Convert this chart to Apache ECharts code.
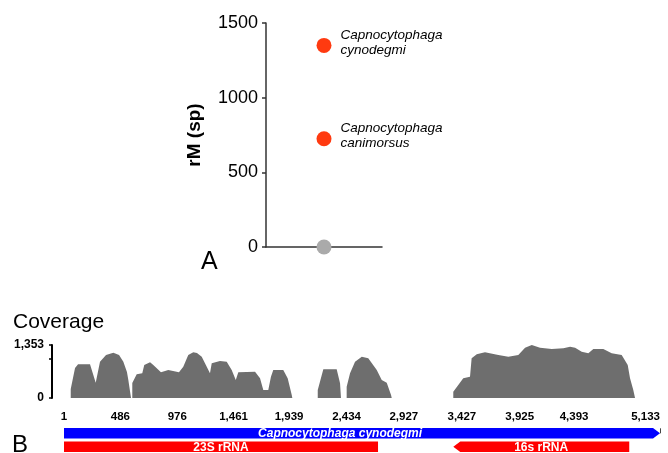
<!DOCTYPE html>
<html>
<head>
<meta charset="utf-8">
<script src="https://cdn.jsdelivr.net/npm/echarts@6/dist/echarts.min.js"></script>
<style>
html,body{margin:0;padding:0;background:#fff;}
#chart{width:668px;height:453px;}
</style>
</head>
<body>
<div id="chart"></div>
<script>
// ---- Panel A data ----
const speciesGenus = ['Capnocytophaga', 'Capnocytophaga'];
const speciesEpithet = ['cynodegmi', 'canimorsus'];
const speciesRM = [1350, 725];
const referenceRM = [0];
const rmTicks = [0, 500, 1000, 1500];

// ---- Panel B coverage data (position, depth); null = no coverage gap ----
const coveragePos = [
  59, 59, 96, 122, 225, 274, 311, 363, 426, 475, 512, 543, 555, 578,
  583,
  589, 589, 627, 675, 692, 742, 770, 836, 899, 991, 1028, 1071, 1114, 1146, 1187, 1215, 1258, 1273, 1344, 1402, 1445, 1480, 1502, 1646, 1689, 1717, 1760, 1783, 1803, 1889, 1927, 1962, 1967,
  2080,
  2186, 2186, 2234, 2349, 2378, 2386,
  2410,
  2435, 2435, 2464, 2507, 2565, 2621, 2694, 2737, 2780, 2817, 2823,
  3100,
  3353, 3353, 3396, 3439, 3497, 3511, 3555, 3626, 3741, 3827, 3913, 3971, 4029, 4100, 4201, 4301, 4359, 4402, 4459, 4516, 4559, 4645, 4717, 4803, 4855, 4875, 4903, 4918
];
const coverageDepth = [
  0, 230, 766, 860, 860, 391, 927, 1098, 1157, 1098, 927, 664, 460, 0,
  null,
  0, 383, 605, 631, 842, 911, 842, 656, 715, 656, 799, 1098, 1167, 1149, 1054, 886, 631, 886, 945, 927, 715, 460, 656, 671, 503, 204, 204, 544, 715, 715, 503, 77, 0,
  null,
  0, 204, 733, 733, 375, 0,
  null,
  0, 288, 631, 927, 1054, 1014, 715, 460, 391, 77, 0,
  null,
  0, 161, 332, 503, 544, 1014, 1116, 1167, 1098, 1054, 1098, 1284, 1353, 1284, 1251, 1269, 1310, 1284, 1182, 1141, 1251, 1251, 1141, 1098, 842, 503, 204, 0
];
const coverageMax = 1353;
const coverageTicks = [0, 1000, 1353];
const coverageLabels = [0, 1353];

// ---- Genome axis ticks ----
const genomeStart = 1;
const genomeEnd = 5133;
const genomeTicks = [1, 486, 976, 1461, 1939, 2434, 2927, 3427, 3925, 4393, 5133];

// ---- Gene track ----
const geneNames = ['Capnocytophaga cynodegmi', '23S rRNA', '16s rRNA'];
const geneStart = [1, 1, 3353];
const geneEnd = [5133, 2705, 4868];
const geneRow = [0, 1, 1];
const geneStrand = ['+', '', '-'];
const geneLabelAt = [2378, 1353, 4110];

// ---- styles ----
const FONT = 'Liberation Sans, Arial, Helvetica, sans-serif';
const geneFill = { 'Capnocytophaga cynodegmi': '#0000ff', '23S rRNA': '#ff0000', '16s rRNA': '#ff0000' };
const geneItalic = { 'Capnocytophaga cynodegmi': true };

const fmtThousands = v => Number(v).toLocaleString('en-US');

const chart = echarts.init(document.getElementById('chart'), null, { renderer: 'canvas' });

const option = {
  backgroundColor: '#ffffff',
  animation: false,
  textStyle: { fontFamily: FONT },
  graphic: [
    { type: 'text', left: 201, top: 250, style: { text: 'A', font: '25px ' + FONT, fill: '#000' } },
    { type: 'text', left: 12, top: 433, style: { text: 'B', font: '24px ' + FONT, fill: '#000' } },
    { type: 'text', left: 13, top: 312, style: { text: 'Coverage', font: '21px ' + FONT, fill: '#000' } }
  ],
  grid: [
    { left: 266, right: 286, top: 23, bottom: 206, containLabel: false, outerBoundsMode: 'none' },
    { left: 64, right: 8, top: 345, bottom: 55, containLabel: false, outerBoundsMode: 'none' },
    { left: 64, right: 8, top: 426.6, height: 26.8, containLabel: false, outerBoundsMode: 'none' }
  ],
  xAxis: [
    { gridIndex: 0, type: 'value', min: 0, max: 2,
      axisLine: { show: true, onZero: false, lineStyle: { color: '#333', width: 1.5 } },
      axisTick: { show: false }, axisLabel: { show: false }, splitLine: { show: false } },
    { gridIndex: 1, type: 'value', min: genomeStart, max: genomeEnd, show: false },
    { gridIndex: 2, type: 'value', min: genomeStart, max: genomeEnd, position: 'top',
      axisLine: { show: false },
      axisTick: { show: true, length: 5, customValues: genomeTicks, lineStyle: { color: '#444', width: 1 } },
      axisLabel: { show: true, customValues: genomeTicks, margin: 4, formatter: fmtThousands,
        alignMaxLabel: 'right',
        fontFamily: FONT, fontSize: 11.5, fontWeight: 'bold', color: '#000' },
      splitLine: { show: false } }
  ],
  yAxis: [
    { gridIndex: 0, type: 'value', min: 0, max: 1500, interval: 500,
      name: 'rM (sp)', nameLocation: 'middle', nameGap: 62, nameRotate: 90,
      nameTextStyle: { fontFamily: FONT, fontSize: 19, fontWeight: 'bold', color: '#000' },
      axisLine: { show: true, lineStyle: { color: '#333', width: 1.5 } },
      axisTick: { show: true, length: 4, lineStyle: { color: '#333', width: 1.5 } },
      axisLabel: { margin: 8, fontFamily: FONT, fontSize: 18, color: '#000', formatter: v => String(v) },
      splitLine: { show: false } },
    { gridIndex: 1, type: 'value', min: 0, max: coverageMax, offset: 12,
      axisLine: { show: true, lineStyle: { color: '#000', width: 2 } },
      axisTick: { show: true, length: 3, customValues: coverageTicks, lineStyle: { color: '#000', width: 1.5 } },
      axisLabel: { show: true, customValues: coverageLabels, margin: 8, formatter: fmtThousands,
        fontFamily: FONT, fontSize: 12, fontWeight: 'bold', color: '#000' },
      splitLine: { show: false } },
    { gridIndex: 1, type: 'value', min: 0, max: coverageMax, offset: 12,
      axisLine: { show: false },
      axisTick: { show: true, inside: true, length: 3, customValues: coverageTicks, lineStyle: { color: '#000', width: 1.5 } },
      axisLabel: { show: false }, splitLine: { show: false } },
    { gridIndex: 2, type: 'value', min: -0.5, max: 1.5, inverse: true, show: false }
  ],
  series: [
    { type: 'scatter', xAxisIndex: 0, yAxisIndex: 0, symbolSize: 15,
      itemStyle: { color: '#ff3a10', opacity: 1 },
      data: speciesRM.map((v, i) => ({ value: [1, v], name: speciesGenus[i] + '\n' + speciesEpithet[i] })),
      label: { show: true, position: 'right', distance: 9, offset: [0, -3],
        formatter: p => p.name, fontFamily: FONT, fontSize: 13.5, fontStyle: 'italic',
        color: '#000', lineHeight: 15 } },
    { type: 'scatter', xAxisIndex: 0, yAxisIndex: 0, symbolSize: 15,
      itemStyle: { color: '#aaaaaa', opacity: 1 }, z: 3,
      data: referenceRM.map(v => [1, v]) },
    { type: 'line', xAxisIndex: 1, yAxisIndex: 1, showSymbol: false, connectNulls: false,
      lineStyle: { width: 0 }, areaStyle: { color: '#6e6e6e', opacity: 1 },
      data: coveragePos.map((p, i) => [p, coverageDepth[i] === null ? '-' : coverageDepth[i]]) },
    { type: 'custom', xAxisIndex: 2, yAxisIndex: 3,
      data: geneStart.map((s, i) => [s, geneEnd[i], geneRow[i], geneLabelAt[i]]),
      renderItem: function (params, api) {
        const i = params.dataIndex;
        const name = geneNames[i];
        const a = api.coord([api.value(0), api.value(2)]);
        const b = api.coord([api.value(1), api.value(2)]);
        const lab = api.coord([api.value(3), api.value(2)]);
        const h = 10.5, head = 7;
        const y0 = a[1] - h / 2, y1 = a[1] + h / 2, cy = a[1];
        let pts;
        if (geneStrand[i] === '+') {
          pts = [[a[0], y0], [b[0] - head, y0], [b[0], cy], [b[0] - head, y1], [a[0], y1]];
        } else if (geneStrand[i] === '-') {
          pts = [[a[0] + head, y0], [b[0], y0], [b[0], y1], [a[0] + head, y1], [a[0], cy]];
        } else {
          pts = [[a[0], y0], [b[0], y0], [b[0], y1], [a[0], y1]];
        }
        return {
          type: 'group',
          children: [
            { type: 'polygon', shape: { points: pts }, style: { fill: geneFill[name] } },
            { type: 'text', style: { text: name, x: lab[0], y: cy + 0.5, align: 'center', verticalAlign: 'middle',
                fill: '#ffffff',
                font: (geneItalic[name] ? 'italic ' : '') + 'bold 12px ' + FONT } }
          ]
        };
      } }
  ]
};
chart.setOption(option);
</script>
</body>
</html>
